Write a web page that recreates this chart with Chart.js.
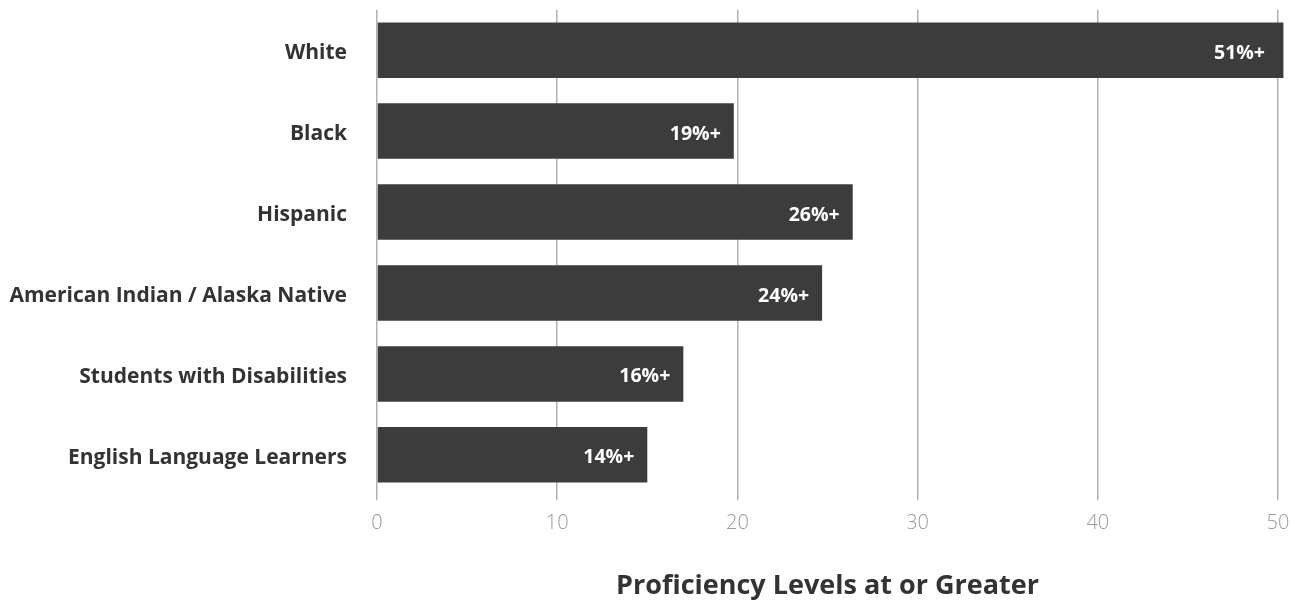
<!DOCTYPE html>
<html>
<head>
<meta charset="utf-8">
<title>Proficiency Levels</title>
<script src="https://cdn.jsdelivr.net/npm/chart.js@4.4.1/dist/chart.umd.min.js"></script>
<style>
    html, body { margin: 0; padding: 0; background: #fff; }
    canvas { display: block; }
</style>
</head>
<body>
<canvas id="proficiencyChart" width="1291" height="600"></canvas>
<script>
// chart data
const groups = [
    "White",
    "Black",
    "Hispanic",
    "American Indian / Alaska Native",
    "Students with Disabilities",
    "English Language Learners"
];
const proficiency = [50.3, 19.8, 26.4, 24.7, 17.0, 15.0];
const barLabels = ["51%+", "19%+", "26%+", "24%+", "16%+", "14%+"];
const xTicks = [0, 10, 20, 30, 40, 50];
const axisTitle = "Proficiency Levels at or Greater";

const FONT = "'Open Sans', 'Liberation Sans', sans-serif";

// white value labels at the end of each bar
const barLabelPlugin = {
    id: "barLabels",
    afterDatasetsDraw(chart) {
        const ctx = chart.ctx;
        const meta = chart.getDatasetMeta(0);
        ctx.save();
        ctx.font = "700 19.5px " + FONT;
        ctx.fillStyle = "#ffffff";
        ctx.textAlign = "right";
        ctx.textBaseline = "middle";
        meta.data.forEach((bar, i) => {
            const end = Math.min(bar.x, chart.chartArea.right);
            ctx.fillText(barLabels[i], end - 13, bar.y + 3);
        });
        ctx.restore();
    }
};

const ctx = document.getElementById("proficiencyChart").getContext("2d");

new Chart(ctx, {
    type: "bar",
    data: {
        labels: groups,
        datasets: [{
            data: proficiency,
            backgroundColor: "#3c3c3c",
            barPercentage: 0.686,
            categoryPercentage: 1,
            clip: false
        }]
    },
    options: {
        indexAxis: "y",
        responsive: false,
        animation: false,
        layout: { padding: { top: 9.7, right: 13, bottom: 0, left: 0 } },
        plugins: {
            legend: { display: false },
            tooltip: { enabled: false }
        },
        scales: {
            x: {
                min: 0,
                max: 50,
                afterBuildTicks: scale => {
                    scale.ticks = xTicks.map(v => ({ value: v }));
                },
                afterFit: scale => {
                    scale.height = 104.7;
                    scale.paddingLeft = 0;
                    scale.paddingRight = 0;
                },
                grid: { color: "#b0b0b0", lineWidth: 1.5, tickLength: 5 },
                border: { display: false },
                ticks: {
                    color: "#9a9a9a",
                    padding: 11,
                    font: { family: FONT, size: 20, weight: "300" }
                },
                title: {
                    display: true,
                    text: axisTitle,
                    color: "#333333",
                    padding: { top: 0, bottom: -3 },
                    font: { family: FONT, size: 27, weight: "700" }
                }
            },
            y: {
                afterFit: scale => {
                    scale.width = 377;
                    scale.paddingTop = 0;
                    scale.paddingBottom = 0;
                },
                grid: { display: false, drawTicks: false },
                border: { display: false },
                ticks: {
                    color: "#333333",
                    padding: 30,
                    labelOffset: 3,
                    font: { family: FONT, size: 21, weight: "700" }
                }
            }
        }
    },
    plugins: [barLabelPlugin]
});
</script>
</body>
</html>
